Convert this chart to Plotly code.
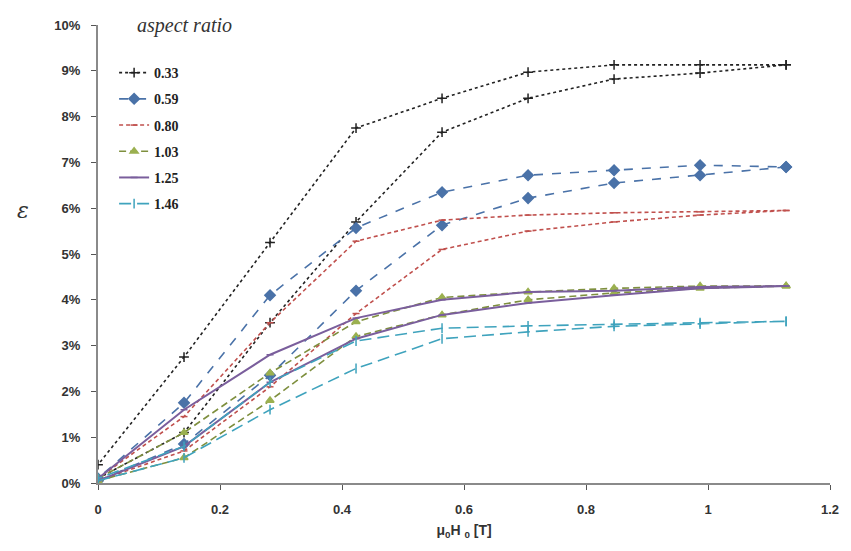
import plotly.graph_objects as go

# Field values (T)
field = [0, 0.141, 0.282, 0.423, 0.564, 0.705, 0.846, 0.987, 1.128]

aspect_ratios = ["0.33", "0.59", "0.80", "1.03", "1.25", "1.46"]

# strain (%) - upper branch and lower branch for each aspect ratio
upper_033 = [0.40, 2.75, 5.25, 7.75, 8.40, 8.97, 9.13, 9.13, 9.13]
lower_033 = [0.10, 1.10, 3.50, 5.70, 7.66, 8.40, 8.82, 8.95, 9.13]

upper_059 = [0.10, 1.75, 4.10, 5.57, 6.35, 6.72, 6.83, 6.94, 6.90]
lower_059 = [0.05, 0.85, 2.35, 4.20, 5.63, 6.22, 6.55, 6.72, 6.90]

upper_080 = [0.10, 1.45, 3.50, 5.28, 5.74, 5.85, 5.90, 5.92, 5.95]
lower_080 = [0.05, 0.70, 2.10, 3.70, 5.10, 5.50, 5.70, 5.85, 5.95]

upper_103 = [0.10, 1.10, 2.40, 3.52, 4.05, 4.17, 4.25, 4.30, 4.30]
lower_103 = [0.05, 0.55, 1.80, 3.20, 3.67, 4.00, 4.15, 4.25, 4.30]

upper_125 = [0.10, 1.60, 2.80, 3.60, 4.00, 4.17, 4.20, 4.28, 4.30]
lower_125 = [0.05, 0.80, 2.20, 3.15, 3.67, 3.93, 4.10, 4.25, 4.30]

upper_146 = [0.10, 0.80, 2.20, 3.10, 3.38, 3.43, 3.47, 3.50, 3.53]
lower_146 = [0.05, 0.55, 1.60, 2.50, 3.15, 3.30, 3.42, 3.47, 3.53]

uppers = [upper_033, upper_059, upper_080, upper_103, upper_125, upper_146]
lowers = [lower_033, lower_059, lower_080, lower_103, lower_125, lower_146]

colors = ["#222222", "#4A72A8", "#C0504D", "#7E8F3E", "#7A5E9C", "#3FA3BD"]
mcolors = ["#222222", "#4A72A8", "#C0504D", "#9BB050", "#7A5E9C", "#3FA3BD"]
dashes = ["dot", "dash", "4px,3px", "7px,4px", "solid", "12px,6px"]
symbols = ["cross-thin", "diamond", "line-ew", "triangle-up", "line-ew", "line-ns"]
msizes = [7, 8, 5, 7, 5, 7]

fig = go.Figure()
for name, up, lo, c, mc, d, s, ms in zip(aspect_ratios, uppers, lowers, colors, mcolors, dashes, symbols, msizes):
    xs = field + field[::-1]
    ys = [v / 100 for v in lo] + [v / 100 for v in up[::-1]]
    fig.add_trace(go.Scatter(
        x=xs, y=ys, name=name, mode="lines+markers",
        line=dict(color=c, dash=d, width=2 if name == "1.25" else 1.6),
        marker=dict(symbol=s, size=ms, color=mc, line=dict(color=mc, width=1.5)),
        legendgroup=name,
    ))

fig.update_layout(
    width=851, height=551,
    margin=dict(l=98, r=15, t=25, b=68),
    paper_bgcolor="white", plot_bgcolor="white",
    font=dict(family="Liberation Sans Narrow, Liberation Sans, Arial", color="#333333"),
    showlegend=True,
    legend=dict(
        x=0.022, y=0.93, xanchor="left", yanchor="top",
        bgcolor="rgba(0,0,0,0)", borderwidth=0,
        font=dict(size=14, family="Liberation Serif, serif", color="#222222", weight="bold"),
        tracegroupgap=5,
    ),
    xaxis=dict(
        range=[0, 1.2], tickvals=[0, 0.2, 0.4, 0.6, 0.8, 1.0, 1.2],
        ticktext=["0", "0.2", "0.4", "0.6", "0.8", "1", "1.2"],
        showgrid=False, zeroline=False, showline=True, linecolor="#8a8a8a", linewidth=2,
        ticks="outside", ticklen=5, tickcolor="#555555", ticklabelstandoff=8,
        tickfont=dict(size=13, weight="bold", color="#333333"),
        title=dict(text="μ<sub>0</sub>H <sub>0</sub> [T]", font=dict(size=14, weight="bold", color="#333333"), standoff=10),
    ),
    yaxis=dict(
        range=[0, 0.10], tickvals=[i / 100 for i in range(11)], tickformat=".0%",
        showgrid=False, zeroline=False, showline=True, linecolor="#8a8a8a", linewidth=2,
        ticks="outside", ticklen=5, tickcolor="#555555", ticklabelstandoff=8,
        tickfont=dict(size=13, weight="bold", color="#333333"),
    ),
    annotations=[
        dict(text="<i>aspect ratio</i>", x=0.05, y=1.0, xref="paper", yref="paper",
             xanchor="left", yanchor="middle", showarrow=False,
             font=dict(size=20, family="Liberation Serif, serif", color="#333333")),
        dict(text="<i>ε</i>", x=-0.103, y=0.595, xref="paper", yref="paper",
             xanchor="center", yanchor="middle", showarrow=False,
             font=dict(size=22, family="DejaVu Serif, serif", color="#333333")),
    ],
)

fig.write_html("out.html")
